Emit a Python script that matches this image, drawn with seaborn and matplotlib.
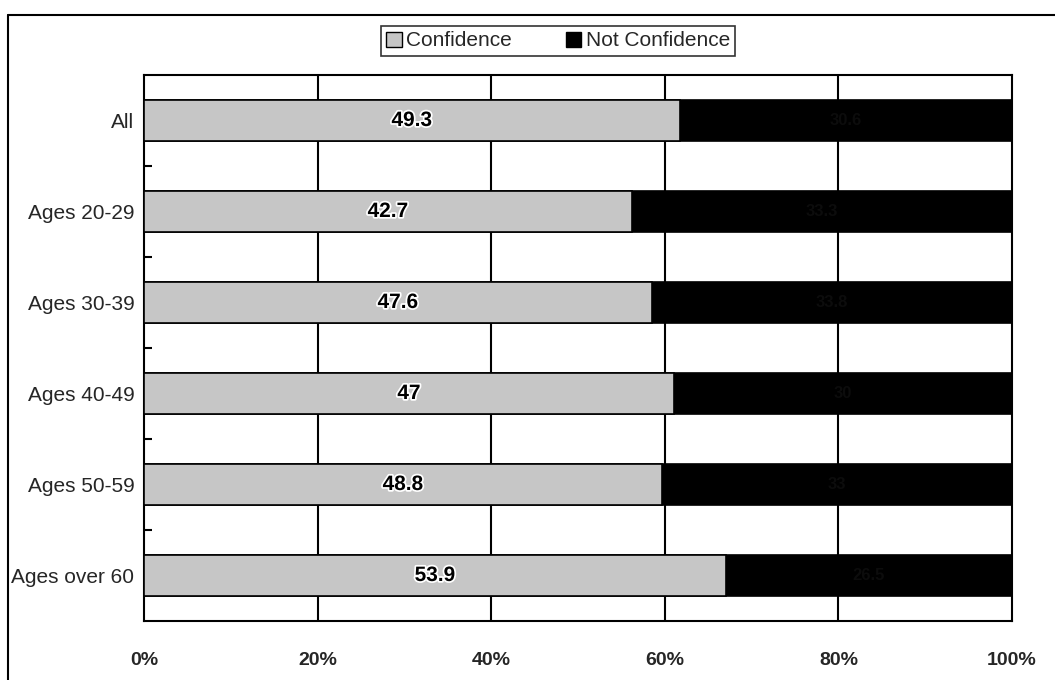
import matplotlib
matplotlib.use('Agg')
import matplotlib.pyplot as plt
import matplotlib.patheffects as pe
from matplotlib.patches import Patch
from matplotlib.lines import Line2D
import seaborn as sns
import pandas as pd

categories = ['All', 'Ages 20-29', 'Ages 30-39', 'Ages 40-49', 'Ages 50-59', 'Ages over 60']
confidence = [49.3, 42.7, 47.6, 47.0, 48.8, 53.9]
not_confidence = [30.6, 33.3, 33.8, 30.0, 33.0, 26.5]
x_ticks = [0, 20, 40, 60, 80, 100]
x_tick_labels = ['0%', '20%', '40%', '60%', '80%', '100%']

sns.set_style('white')
plt.rcParams['font.family'] = ['Liberation Sans Narrow', 'Liberation Sans', 'DejaVu Sans']

df = pd.DataFrame({'category': categories, 'conf': confidence, 'notconf': not_confidence})
df['total'] = df['conf'] + df['notconf']
df['conf_pct'] = df['conf'] / df['total'] * 100
df['full'] = 100.0

fig = plt.figure(figsize=(10.55, 6.8), dpi=100)
ax = fig.add_axes([144 / 1055, 59 / 680, 868 / 1055, 546 / 680])

sns.barplot(data=df, x='full', y='category', color='black', width=0.46,
            edgecolor='black', linewidth=1.2, saturation=1, ax=ax, zorder=3)
sns.barplot(data=df, x='conf_pct', y='category', color='#c6c6c6', width=0.46,
            edgecolor='black', linewidth=1.2, saturation=1, ax=ax, zorder=4)

for i, row in df.iterrows():
    ax.text(row['conf_pct'] / 2, i, f"{row['conf']:g}", ha='center', va='center',
            fontsize=15, fontweight='bold', color='black', zorder=6,
            path_effects=[pe.withStroke(linewidth=2.5, foreground='white')])
    # values on the dark segments are barely visible in the original
    ax.text((row['conf_pct'] + 100) / 2, i, f"{row['notconf']:g}", ha='center', va='center',
            fontsize=12, fontweight='bold', color='#0c0c0c', zorder=6)

ax.set_xlim(0, 100)
ax.set_ylim(len(categories) - 0.5, -0.5)
ax.set_xticks(x_ticks)
ax.set_xticklabels(x_tick_labels, fontsize=14, fontweight='bold')
ax.set_xlabel('')
ax.set_ylabel('')
ax.tick_params(axis='y', which='major', length=0, labelsize=15, pad=7)
ax.tick_params(axis='x', which='major', length=0, pad=22)
ax.set_yticks([i + 0.5 for i in range(len(categories) - 1)], minor=True)
ax.tick_params(axis='y', which='minor', left=True, direction='in', length=6, width=1.5, color='black')

for x in x_ticks[1:-1]:
    ax.axvline(x, color='black', linewidth=1.5, zorder=2)
for s in ax.spines.values():
    s.set_visible(True)
    s.set_color('black')
    s.set_linewidth(1.5)

# outer frame (left and top edges visible in the reference)
fig.add_artist(Line2D([8 / 1055, 8 / 1055], [0, 1 - 15 / 680], color='black', linewidth=1.5))
fig.add_artist(Line2D([8 / 1055, 1], [1 - 15 / 680, 1 - 15 / 680], color='black', linewidth=1.5))

handles = [Patch(facecolor='#c6c6c6', edgecolor='black', linewidth=1),
           Patch(facecolor='black', edgecolor='black', linewidth=1)]
leg = fig.legend(handles, ['Confidence', 'Not Confidence'], loc='center',
                 bbox_to_anchor=(558 / 1055, 1 - 41 / 680), ncol=2, frameon=True,
                 fancybox=False, edgecolor='black', fontsize=15, handlelength=0.75,
                 handleheight=0.75, handletextpad=0.2, columnspacing=2.6,
                 borderpad=0.25, borderaxespad=0)
leg.get_frame().set_linewidth(1.2)

fig.savefig('out.png', dpi=100)
